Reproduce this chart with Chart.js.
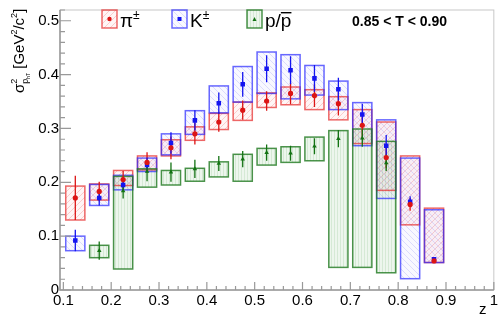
<!DOCTYPE html>
<html>
<head>
<meta charset="utf-8">
<script src="https://cdn.jsdelivr.net/npm/chart.js@4/dist/chart.umd.min.js"></script>
<style>
  html, body { margin: 0; padding: 0; background: #fff; }
  #myChart { display: block; }
</style>
</head>
<body>
<canvas id="myChart" width="500" height="323"></canvas>
<script>
"use strict";

// z bin centres
const zBins = [0.125, 0.175, 0.225, 0.275, 0.325, 0.375, 0.425, 0.475,
               0.525, 0.575, 0.625, 0.675, 0.725, 0.775, 0.825, 0.875];

// pions
const piVal   = [0.171, 0.183, 0.205, 0.237, 0.264, 0.290, 0.312, 0.334, 0.351, 0.365, 0.361, 0.346, 0.306, 0.246, 0.159, 0.054];
const piStat  = [0.041, 0.018, 0.016, 0.019, 0.021, 0.020, 0.018, 0.018, 0.018, 0.020, 0.021, 0.022, 0.021, 0.020, 0.012, 0.004];
const piSysLo = [0.130, 0.167, 0.194, 0.223, 0.249, 0.278, 0.298, 0.315, 0.339, 0.344, 0.335, 0.316, 0.272, 0.185, 0.121, 0.051];
const piSysHi = [0.193, 0.197, 0.222, 0.249, 0.279, 0.303, 0.328, 0.349, 0.366, 0.377, 0.372, 0.359, 0.335, 0.312, 0.249, 0.152];

// kaons
const kVal   = [0.092, 0.171, 0.195, 0.232, 0.273, 0.315, 0.347, 0.382, 0.411, 0.408, 0.393, 0.373, 0.326, 0.268, 0.164, 0.057];
const kStat  = [0.020, 0.014, 0.010, 0.014, 0.020, 0.019, 0.020, 0.023, 0.025, 0.026, 0.025, 0.021, 0.020, 0.020, 0.010, 0.004];
const kSysLo = [0.073, 0.157, 0.186, 0.220, 0.251, 0.289, 0.329, 0.349, 0.365, 0.355, 0.362, 0.335, 0.268, 0.170, 0.021, 0.051];
const kSysHi = [0.100, 0.196, 0.213, 0.245, 0.290, 0.333, 0.379, 0.415, 0.442, 0.437, 0.417, 0.388, 0.348, 0.316, 0.245, 0.149];

// protons / antiprotons
const pVal   = [null, 0.073, 0.184, 0.220, 0.219, 0.225, 0.235, 0.243, 0.255, 0.254, 0.267, 0.281, 0.282, 0.236, null, null];
const pStat  = [null, 0.017, 0.014, 0.018, 0.018, 0.017, 0.014, 0.015, 0.015, 0.014, 0.015, 0.016, 0.016, 0.015, null, null];
const pSysLo = [null, 0.060, 0.039, 0.191, 0.195, 0.202, 0.210, 0.202, 0.232, 0.237, 0.240, 0.042, 0.042, 0.032, null, null];
const pSysHi = [null, 0.083, 0.211, 0.225, 0.222, 0.226, 0.238, 0.252, 0.263, 0.266, 0.284, 0.296, 0.299, 0.276, null, null];

const xTicks = [0.1, 0.2, 0.3, 0.4, 0.5, 0.6, 0.7, 0.8, 0.9, 1.0];
const yTicks = [0, 0.1, 0.2, 0.3, 0.4, 0.5];

const FONT = "'Liberation Sans', Arial, Helvetica, sans-serif";
const red = "rgb(220, 20, 20)";
const blue = "rgb(20, 20, 240)";
const green = "rgb(20, 115, 20)";
const boxHalf = 0.02;
const frameGray = "#999";

const canvas = document.getElementById("myChart");
const ctx2d = canvas.getContext("2d");

// hatched fills for the systematic boxes
function makeHatch(tint, line, dir) {
  const c = document.createElement("canvas");
  c.width = c.height = 6;
  const g = c.getContext("2d");
  g.fillStyle = tint;
  g.fillRect(0, 0, 6, 6);
  g.strokeStyle = line;
  g.lineWidth = 1;
  g.beginPath();
  if (dir === "/") {
    g.moveTo(-1, 7); g.lineTo(7, -1);
    g.moveTo(-4, 4); g.lineTo(4, -4);
    g.moveTo(2, 10); g.lineTo(10, 2);
  } else if (dir === "\\") {
    g.moveTo(-1, -1); g.lineTo(7, 7);
    g.moveTo(-4, 2); g.lineTo(4, 10);
    g.moveTo(2, -4); g.lineTo(10, 4);
  } else {
    g.moveTo(1.5, 0); g.lineTo(1.5, 6);
    g.moveTo(4.5, 0); g.lineTo(4.5, 6);
  }
  g.stroke();
  return ctx2d.createPattern(c, "repeat");
}

const redHatch = makeHatch("rgba(255, 80, 80, 0.06)", "rgba(230, 60, 60, 0.22)", "/");
const blueHatch = makeHatch("rgba(80, 80, 255, 0.04)", "rgba(70, 70, 240, 0.16)", "\\");
const greenHatch = makeHatch("rgba(60, 160, 60, 0.09)", "rgba(40, 140, 40, 0.12)", "|");

const series = [
  { val: piVal, stat: piStat, lo: piSysLo, hi: piSysHi, color: red, box: "rgba(230, 40, 40, 0.7)", fill: redHatch },
  { val: kVal, stat: kStat, lo: kSysLo, hi: kSysHi, color: blue, box: "rgba(40, 40, 255, 0.7)", fill: blueHatch },
  { val: pVal, stat: pStat, lo: pSysLo, hi: pSysHi, color: green, box: "rgba(30, 120, 30, 0.8)", fill: greenHatch },
];

function points(vals) {
  return zBins.map((z, i) => ({ x: z, y: vals[i] })).filter((p) => p.y !== null);
}

// frame, inward ticks, systematic boxes and error bars
const decorations = {
  id: "decorations",
  beforeDatasetsDraw(chart) {
    const { ctx, chartArea: a, scales: { x, y } } = chart;
    ctx.save();

    series.forEach((s) => {
      zBins.forEach((z, i) => {
        if (s.val[i] === null) return;
        const x0 = x.getPixelForValue(z - boxHalf);
        const x1 = x.getPixelForValue(z + boxHalf);
        const y0 = y.getPixelForValue(s.hi[i]);
        const y1 = y.getPixelForValue(s.lo[i]);
        ctx.fillStyle = s.fill;
        ctx.fillRect(x0, y0, x1 - x0, y1 - y0);
      });
    });
    series.forEach((s) => {
      ctx.strokeStyle = s.box;
      ctx.lineWidth = 1.5;
      zBins.forEach((z, i) => {
        if (s.val[i] === null) return;
        const x0 = x.getPixelForValue(z - boxHalf);
        const x1 = x.getPixelForValue(z + boxHalf);
        const y0 = y.getPixelForValue(s.hi[i]);
        const y1 = y.getPixelForValue(s.lo[i]);
        ctx.strokeRect(x0, y0, x1 - x0, y1 - y0);
      });
    });
    series.forEach((s) => {
      ctx.strokeStyle = s.color;
      ctx.lineWidth = 1.3;
      ctx.beginPath();
      zBins.forEach((z, i) => {
        if (s.val[i] === null) return;
        const px = x.getPixelForValue(z);
        ctx.moveTo(px, y.getPixelForValue(s.val[i] + s.stat[i]));
        ctx.lineTo(px, y.getPixelForValue(s.val[i] - s.stat[i]));
      });
      ctx.stroke();
    });

    // frame
    ctx.strokeStyle = "#c8c8c8";
    ctx.lineWidth = 1;
    ctx.strokeRect(a.left, a.top, a.right - a.left, a.bottom - a.top);
    ctx.strokeStyle = frameGray;
    ctx.lineWidth = 1.5;
    ctx.beginPath();
    ctx.moveTo(a.left, a.top);
    ctx.lineTo(a.left, a.bottom);
    ctx.lineTo(a.right, a.bottom);
    ctx.stroke();

    // ticks pointing into the plot
    ctx.lineWidth = 1.2;
    ctx.beginPath();
    for (let k = 0; k <= 26; k++) {
      const v = k * 0.02;
      const py = y.getPixelForValue(v);
      const len = k % 5 === 0 ? 11 : 5;
      ctx.moveTo(a.left, py);
      ctx.lineTo(a.left + len, py);
    }
    for (let k = 0; k <= 45; k++) {
      const v = 0.1 + k * 0.02;
      const px = x.getPixelForValue(v);
      const len = k % 5 === 0 ? 8 : 4;
      ctx.moveTo(px, a.bottom);
      ctx.lineTo(px, a.bottom - len);
    }
    ctx.stroke();
    ctx.restore();
  },
  afterDraw(chart) {
    const { ctx } = chart;
    ctx.save();
    ctx.fillStyle = "#000";
    ctx.textBaseline = "alphabetic";

    // y axis title, rotated
    ctx.translate(24, 93);
    ctx.rotate(-Math.PI / 2);
    let cx = 0;
    const put = (t, size, dy) => {
      ctx.font = size + "px " + FONT;
      ctx.fillText(t, cx, dy);
      cx += ctx.measureText(t).width;
    };
    put("σ", 15, 0);
    const sx = cx;
    put("2", 9, -7);
    cx = sx;
    put("p", 9, 4);
    put("hT", 5, 6);
    put(" [GeV", 15, 0);
    put("2", 9, -7);
    put("/c", 15, 0);
    put("2", 9, -7);
    put("]", 15, 0);
    ctx.restore();

    ctx.save();
    ctx.fillStyle = "#000";
    ctx.font = "15px " + FONT;
    ctx.fillText("z", 479, 314);

    // legend
    const entries = [
      { x: 102, s: series[0], text: "π", sup: "±", style: "circle" },
      { x: 172, s: series[1], text: "K", sup: "±", style: "rect" },
      { x: 247, s: series[2], text: "p/p", sup: "", style: "triangle" },
    ];
    entries.forEach((e) => {
      ctx.fillStyle = e.s.fill;
      ctx.fillRect(e.x, 10, 15, 18);
      ctx.strokeStyle = e.s.box;
      ctx.lineWidth = 1.5;
      ctx.strokeRect(e.x, 10, 15, 18);
      ctx.fillStyle = e.s.color;
      ctx.beginPath();
      if (e.style === "circle") ctx.arc(e.x + 7.5, 19, 2.2, 0, Math.PI * 2);
      else if (e.style === "rect") ctx.rect(e.x + 5.5, 17, 4, 4);
      else { ctx.moveTo(e.x + 7.5, 17); ctx.lineTo(e.x + 9.5, 21); ctx.lineTo(e.x + 5.5, 21); ctx.closePath(); }
      ctx.fill();

      ctx.fillStyle = "#000";
      ctx.font = "19px " + FONT;
      ctx.fillText(e.text, e.x + 18, 27);
      const w = ctx.measureText(e.text).width;
      if (e.sup) {
        ctx.font = "12px " + FONT;
        ctx.fillText(e.sup, e.x + 18 + w, 19);
      } else {
        // bar over the second p
        const pw = ctx.measureText("p").width;
        ctx.fillRect(e.x + 18 + w - pw, 12, pw, 1.4);
      }
    });

    ctx.font = "bold 14px " + FONT;
    ctx.fillText("0.85 < T < 0.90", 352, 26);
    ctx.restore();
  },
};

const data = {
  datasets: [
    { data: points(piVal), pointStyle: "circle", pointRadius: 2.6, backgroundColor: red, borderColor: red, borderWidth: 0 },
    { data: points(kVal), pointStyle: "rect", pointRadius: 3.2, backgroundColor: blue, borderColor: blue, borderWidth: 0 },
    { data: points(pVal), pointStyle: "triangle", pointRadius: 2.6, backgroundColor: green, borderColor: green, borderWidth: 0 },
  ],
};

const config = {
  type: "scatter",
  data: data,
  options: {
    responsive: false,
    animation: false,
    devicePixelRatio: 1,
    layout: { padding: { left: 0, right: 5, top: 3, bottom: 0 } },
    scales: {
      x: {
        type: "linear",
        min: 0.093,
        max: 1.0,
        grid: { display: false, drawTicks: false },
        border: { display: false },
        afterBuildTicks: (axis) => {
          axis.ticks = xTicks.map((v) => ({ value: v }));
        },
        afterFit: (axis) => {
          axis.height = 33;
        },
        ticks: {
          color: "#000",
          padding: 2,
          maxRotation: 0,
          autoSkip: false,
          font: { family: FONT, size: 15 },
          callback: (v) => (v === 1 ? "1" : v.toFixed(1)),
        },
      },
      y: {
        type: "linear",
        min: 0,
        max: 0.52,
        grid: { display: false, drawTicks: false },
        border: { display: false },
        afterBuildTicks: (axis) => {
          axis.ticks = yTicks.map((v) => ({ value: v }));
        },
        afterFit: (axis) => {
          axis.width = 60;
        },
        ticks: {
          color: "#000",
          padding: 1,
          font: { family: FONT, size: 15 },
          callback: (v) => (v === 0 ? "0" : v.toFixed(1)),
        },
      },
    },
    plugins: {
      legend: { display: false },
      tooltip: { enabled: false },
    },
  },
  plugins: [decorations],
};

new Chart(canvas, config);
</script>
</body>
</html>
